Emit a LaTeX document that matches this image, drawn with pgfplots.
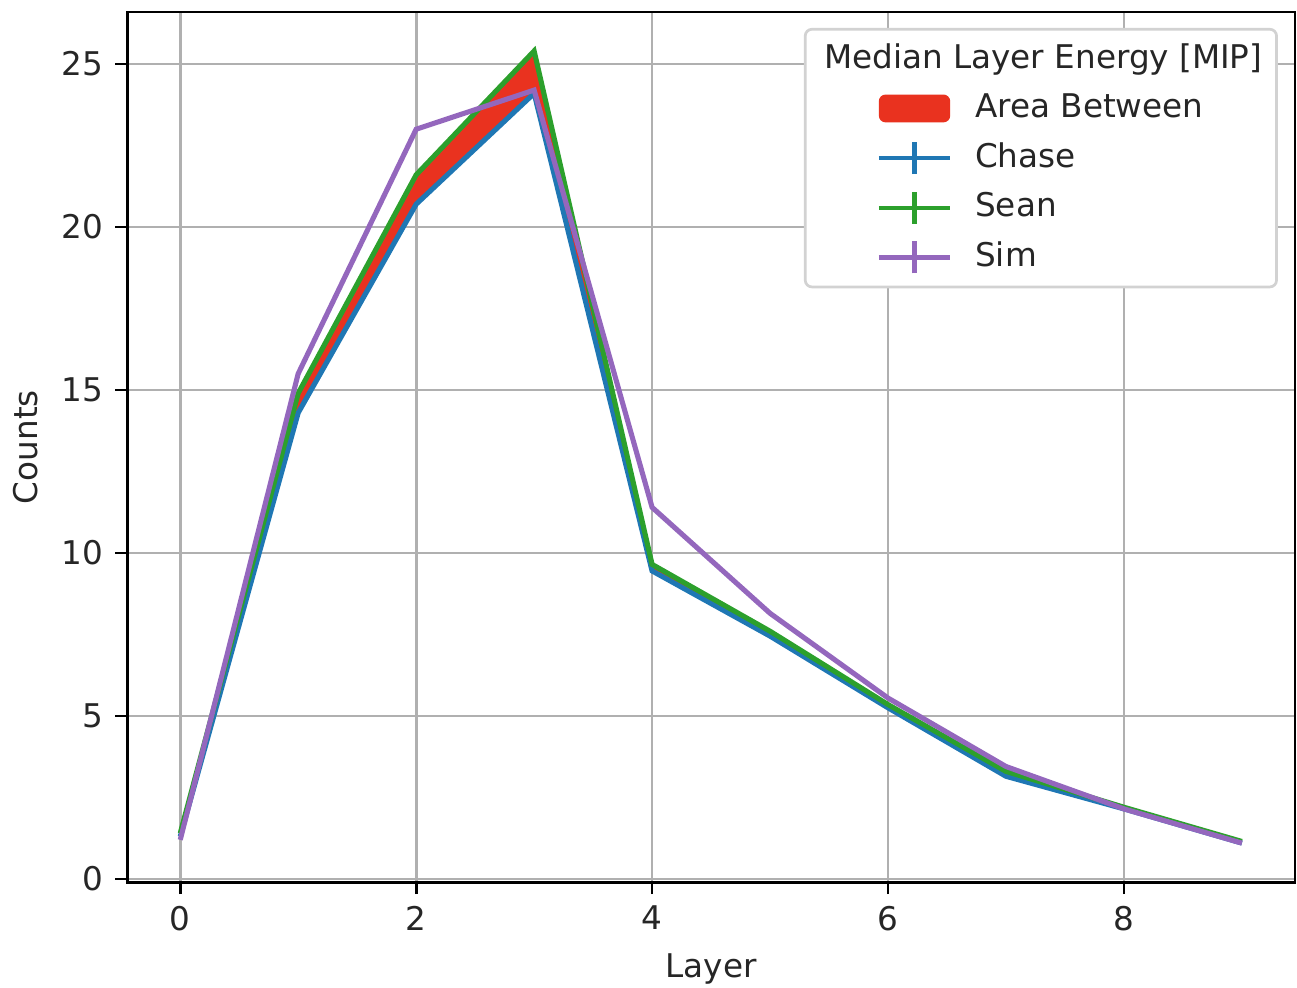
\documentclass[border=0pt]{standalone}
\usepackage{fontspec}
\setmainfont{DejaVu Sans}
\usepackage{pgfplots}
\pgfplotsset{compat=1.18}
\usepgfplotslibrary{fillbetween}
\definecolor{cblue}{HTML}{1F77B4}
\definecolor{cgreen}{HTML}{2CA02C}
\definecolor{cpurple}{HTML}{9467BD}
\definecolor{cred}{HTML}{E9321F}
\definecolor{gridgray}{HTML}{B0B0B0}
\pgfplotstableread{
x chase sean sim
0 1.30 1.40 1.20
1 14.3 14.9 15.5
2 20.7 21.6 23.0
3 24.1 25.4 24.2
4 9.45 9.65 11.4
5 7.45 7.60 8.15
6 5.25 5.35 5.55
7 3.15 3.30 3.45
8 2.15 2.20 2.15
9 1.10 1.15 1.10
}\datatable
\begin{document}
\begin{tikzpicture}
\begin{axis}[
  set layers,
  scale only axis,
  width=343.5pt, height=256pt,
  xmin=-0.45, xmax=9.45, ymin=-0.1, ymax=26.6,
  xtick={0,2,4,6,8}, ytick={0,5,10,15,20,25},
  grid=major,
  grid style={color=gridgray, line width=0.8pt},
  axis line style={line width=0.8pt},
  tick style={black, line width=0.8pt},
  tick align=outside, major tick length=3.5pt,
  tick pos=left,
  /pgf/number format/assume math mode=true,
  tick label style={font=\fontsize{9.6}{11.5}\selectfont, text=black!85},
  label style={font=\fontsize{9.6}{11.5}\selectfont, text=black!85},
  xlabel={Layer}, ylabel={Counts},
  legend style={at={(0.9854,0.9816)}, anchor=north east,
    draw=gray!35, rounded corners=2pt, line width=0.8pt,
    inner xsep=2.2pt, inner ysep=1.4pt,
    font=\fontsize{9.6}{11.5}\selectfont, text=black!85,
    cells={anchor=west},
    nodes={inner sep=2pt, text height=8pt, text depth=2.6pt},
    column sep=4.6pt},
  legend image code/.code={%
    \path (-18.7pt,0pt) (21pt,0pt);
    \draw[line width=1.3pt] (0pt,0pt)--(21pt,0pt);
    \draw[line width=1.3pt] (10.5pt,-4.7pt)--(10.5pt,4.7pt);},
]
\addlegendimage{empty legend}
\addlegendentry{\hspace{-44.4pt}Median Layer Energy [MIP]}

\addplot[draw=none, forget plot, name path=chase] table[x=x,y=chase]{\datatable};
\addplot[draw=none, forget plot, name path=sean] table[x=x,y=sean]{\datatable};

\addplot[fill=cred, draw=none, on layer=axis background,
  legend image code/.code={%
    \path (-18.7pt,0pt) (21pt,0pt);
    \fill[cred] (0pt,-4.1pt) rectangle (21pt,4.1pt);}]
  fill between[of=chase and sean];
\addlegendentry{Area Between}

\addplot[cblue, line width=1.5pt, mark=none] table[x=x,y=chase]{\datatable};
\addlegendentry{Chase}
\addplot[cgreen, line width=1.5pt, mark=none] table[x=x,y=sean]{\datatable};
\addlegendentry{Sean}
\addplot[cpurple, line width=1.5pt, mark=none] table[x=x,y=sim]{\datatable};
\addlegendentry{Sim}
\end{axis}
\pgfresetboundingbox
\path ([xshift=-37.4pt,yshift=-30.9pt]current axis.south west) rectangle ([xshift=0.6pt,yshift=3.5pt]current axis.north east);
\end{tikzpicture}
\end{document}
